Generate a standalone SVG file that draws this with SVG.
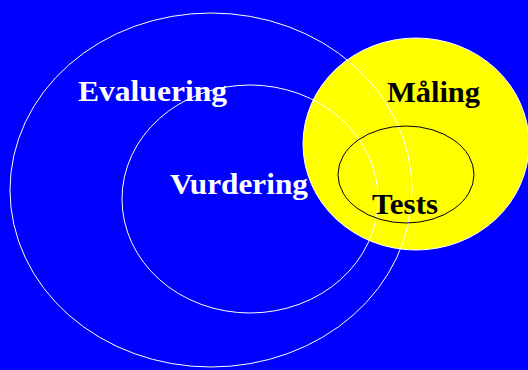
<svg xmlns="http://www.w3.org/2000/svg" width="528" height="370" viewBox="0 0 528 370">
<style>
.w{fill:none;stroke:#FFFFFF;stroke-width:1}
.t{font-family:"Liberation Serif","Times New Roman",serif;font-weight:bold;font-size:29px}
.tw{fill:#FFFFFF}
.tb{fill:#000000}
</style>
<rect x="0" y="0" width="528" height="370" fill="#0000FF"/>
<g id="maling">
<ellipse cx="416" cy="144" rx="113" ry="106" fill="#FFFF00" stroke="#FFFFFF" stroke-width="1"/>
</g>
<g id="evaluering">
<ellipse class="w" cx="211" cy="190" rx="201" ry="177"/>
</g>
<g id="vurdering">
<ellipse class="w" cx="250" cy="199" rx="128" ry="114"/>
</g>
<g id="tests">
<ellipse cx="406" cy="174.5" rx="68" ry="48.5" fill="none" stroke="#000000" stroke-width="1"/>
</g>
<g id="labels">
<text class="t tw" x="78" y="101" textLength="149" lengthAdjust="spacingAndGlyphs">Evaluering</text>
<text class="t tw" x="170" y="194" textLength="138" lengthAdjust="spacingAndGlyphs">Vurdering</text>
<text class="t tb" x="387" y="102" textLength="93" lengthAdjust="spacingAndGlyphs">Måling</text>
<text class="t tb" x="372" y="214" textLength="66" lengthAdjust="spacingAndGlyphs">Tests</text>
</g>
</svg>
